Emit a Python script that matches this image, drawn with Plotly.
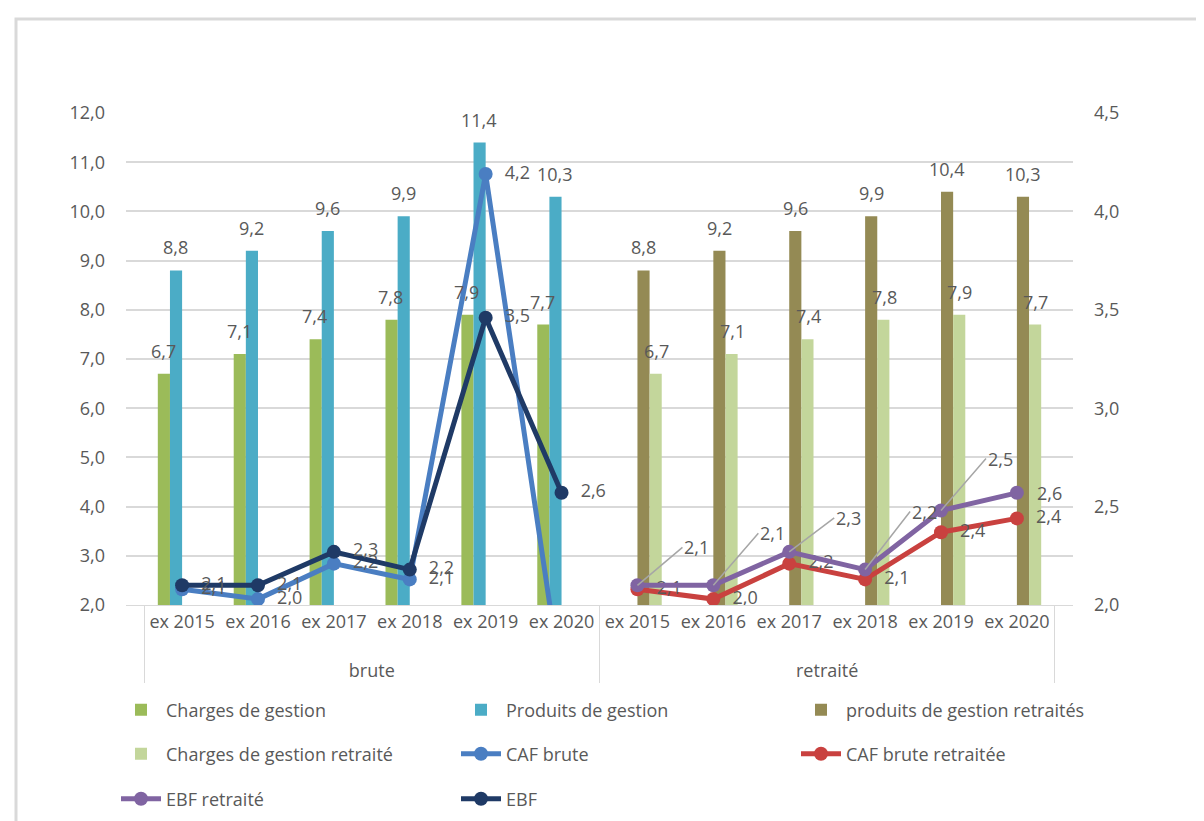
import plotly.graph_objects as go

groups = ["brute"] * 6 + ["retraité"] * 6
years = ["ex 2015", "ex 2016", "ex 2017", "ex 2018", "ex 2019", "ex 2020"] * 2

charges_gestion = [6.7, 7.1, 7.4, 7.8, 7.9, 7.7] + [None] * 6
produits_gestion = [8.8, 9.2, 9.6, 9.9, 11.4, 10.3] + [None] * 6
produits_retraites = [None] * 6 + [8.8, 9.2, 9.6, 9.9, 10.4, 10.3]
charges_retraite = [None] * 6 + [6.7, 7.1, 7.4, 7.8, 7.9, 7.7]

caf_brute = [2.08, 2.03, 2.21, 2.13, 4.19, 1.60] + [None] * 6
caf_brute_retraitee = [None] * 6 + [2.08, 2.03, 2.21, 2.13, 2.37, 2.44]
ebf_retraite = [None] * 6 + [2.10, 2.10, 2.27, 2.18, 2.48, 2.57]
ebf = [2.10, 2.10, 2.27, 2.18, 3.46, 2.57] + [None] * 6

FONT = "Open Sans"
GREY = "#595959"
FS = 18

L, T, W, H = 118, 105, 947, 492
BARGAP = 0.36
N_CAT = len(years)
SLOT = W / N_CAT * (1 - BARGAP) / 4

def px(xp):
    return (xp - L) / W
def py(yp):
    return (T + H - yp) / H

# display the group level one line lower (as in the reference)
x = [["<br>" + g for g in groups], years]
fig = go.Figure()
annotations = []
lab_font = dict(size=FS, color=GREY, family=FONT)

bar_series = [
    ("Charges de gestion", charges_gestion, "#9BBB59", "legend"),
    ("Produits de gestion", produits_gestion, "#4BACC6", "legend"),
    ("produits de gestion retraités", produits_retraites, "#948A54", "legend"),
    ("Charges de gestion retraité", charges_retraite, "#C3D69B", "legend2"),
]
for j, (name, vals, color, leg) in enumerate(bar_series):
    fig.add_trace(go.Bar(
        x=x, y=vals, name=name, marker=dict(color=color, line=dict(width=0)),
        yaxis="y", legend=leg,
    ))
    for i, v in enumerate(vals):
        if v is None:
            continue
        annotations.append(dict(
            x=i, y=v, xref="x", yref="y", text=f"{v:.1f}".replace(".", ","),
            showarrow=False, yanchor="bottom", xanchor="center",
            xshift=(j - 1.5) * SLOT, yshift=9, font=lab_font))

def add_line(name, vals, color, leg, text=True):
    fig.add_trace(go.Scatter(
        x=x, y=vals, name=name, yaxis="y2", legend=leg,
        mode="lines+markers+text" if text else "lines+markers",
        line=dict(color=color, width=5), marker=dict(color=color, size=14),
        texttemplate="  %{y:.1f}", textposition="middle right",
        textfont=lab_font, connectgaps=False,
    ))

add_line("CAF brute", caf_brute, "#4A7EC2", "legend2")
add_line("CAF brute retraitée", caf_brute_retraitee, "#C9413F", "legend2")
add_line("EBF retraité", ebf_retraite, "#8064A2", "legend3", text=False)
add_line("EBF", ebf, "#1F3A66", "legend3")

# data labels with leader lines for EBF retraité
leader_offsets = [(45, -38), (45, -52), (45, -34), (45, -58), (45, -52), None]
k = 0
for i, v in enumerate(ebf_retraite):
    if v is None:
        continue
    off = leader_offsets[k]
    k += 1
    label = f"{v:.1f}".replace(".", ",")
    if off is None:
        annotations.append(dict(x=i, y=v, xref="x", yref="y2", text=label,
                                showarrow=False, xanchor="left", xshift=18,
                                font=lab_font))
    else:
        annotations.append(dict(x=i, y=v, xref="x", yref="y2", text=label,
                                showarrow=True, arrowhead=0, arrowwidth=1.5,
                                arrowcolor="#A6A6A6", ax=off[0], ay=off[1],
                                xanchor="left", font=lab_font))

def legend_row(yp):
    return dict(orientation="h", x=px(108), y=py(yp), xanchor="left", yanchor="middle",
                entrywidth=285, entrywidthmode="pixels", font=lab_font,
                itemwidth=40, traceorder="normal", bgcolor="rgba(0,0,0,0)")

fig.update_layout(
    width=1204, height=821,
    margin=dict(l=L, r=1204 - L - W, t=T, b=821 - T - H),
    paper_bgcolor="white", plot_bgcolor="white",
    separators=", ",
    font=dict(family=FONT, size=FS, color=GREY),
    barmode="group", bargap=BARGAP, bargroupgap=0,
    showlegend=True,
    legend=legend_row(702),
    legend2=legend_row(746),
    legend3=legend_row(791),
    xaxis=dict(type="multicategory", showline=True, linecolor="#D9D9D9", linewidth=1,
               showdividers=True, dividercolor="#D9D9D9", dividerwidth=1,
               tickangle=0, ticks="", tickfont=lab_font),
    yaxis=dict(range=[2, 12], dtick=1, tickformat=".1f", showgrid=True,
               gridcolor="#D9D9D9", gridwidth=1.5, zeroline=False, ticks="",
               ticklabelstandoff=20, tickfont=lab_font),
    yaxis2=dict(range=[2, 4.5], dtick=0.5, tickformat=".1f", overlaying="y", side="right",
                showgrid=False, zeroline=False, ticks="", ticklabelstandoff=20,
                tickfont=lab_font),
    annotations=annotations,
    shapes=[dict(type="rect", xref="paper", yref="paper",
                 x0=px(8), x1=px(1260), y0=py(880), y1=py(11),
                 line=dict(color="#D9D9D9", width=3), layer="below")],
)

fig.write_html("out.html")
